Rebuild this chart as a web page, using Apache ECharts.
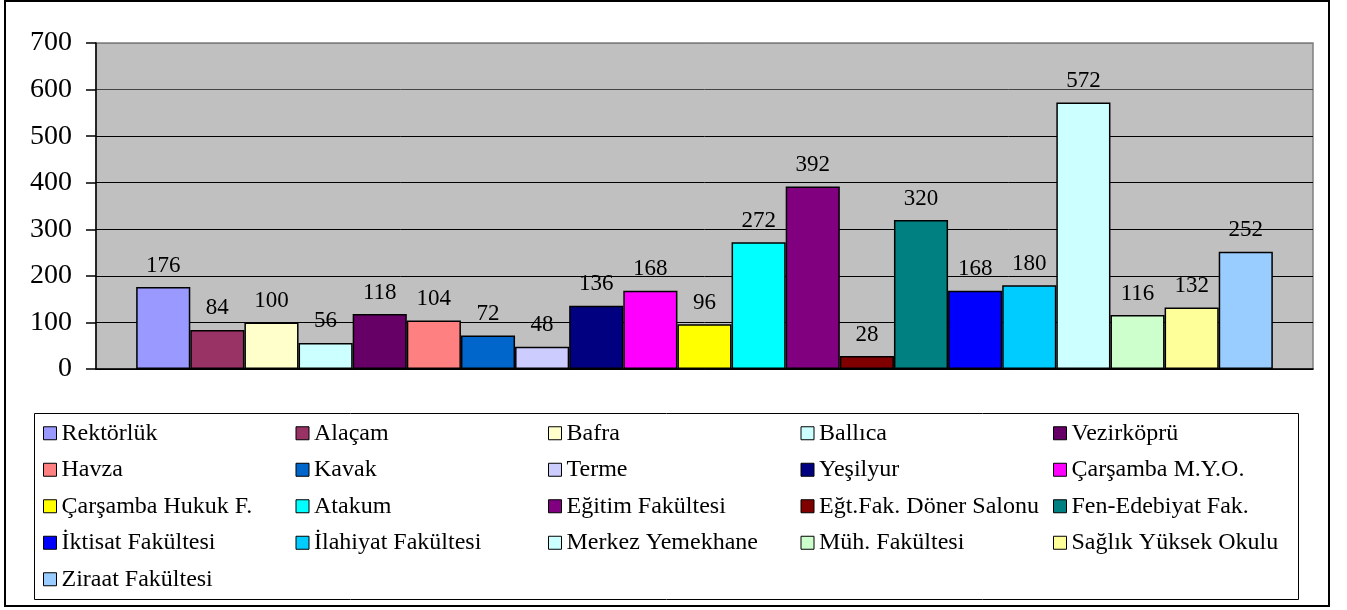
<!DOCTYPE html>
<html>
<head>
<meta charset="utf-8">
<script src="https://cdn.jsdelivr.net/npm/echarts@6/dist/echarts.min.js"></script>
<style>
html,body{margin:0;padding:0;background:#fff;}
#chart{width:1347px;height:610px;}
</style>
</head>
<body>
<div id="chart"></div>
<script>
var names = ['Rektörlük','Alaçam','Bafra','Ballıca','Vezirköprü','Havza','Kavak','Terme','Yeşilyur','Çarşamba M.Y.O.','Çarşamba Hukuk F.','Atakum','Eğitim Fakültesi','Eğt.Fak. Döner Salonu','Fen-Edebiyat Fak.','İktisat Fakültesi','İlahiyat Fakültesi','Merkez Yemekhane','Müh. Fakültesi','Sağlık Yüksek Okulu','Ziraat Fakültesi'];
var values = [176,84,100,56,118,104,72,48,136,168,96,272,392,28,320,168,180,572,116,132,252];
var colors = ['#9999FF','#993366','#FFFFCC','#CCFFFF','#660066','#FF8080','#0066CC','#CCCCFF','#000080','#FF00FF','#FFFF00','#00FFFF','#800080','#800000','#008080','#0000FF','#00CCFF','#CCFFFF','#CCFFCC','#FFFF99','#99CCFF'];
var yTicks = [0,100,200,300,400,500,600,700];

var FONT = "'Liberation Serif','Times New Roman',serif";
var chart = echarts.init(document.getElementById('chart'));
var series = names.map(function(n,i){
  return {
    name: n,
    type: 'bar',
    data: [values[i]],
    barGap: '0%',
    barCategoryGap: '6.6%',
    itemStyle: {color: colors[i], borderColor: '#000', borderWidth: 1.5},
    label: {show: true, position: 'top', distance: 10, color: '#000', fontSize: 23, fontFamily: FONT},
    emphasis: {disabled: true}
  };
});
chart.setOption({
  animation: false,
  color: colors,
  grid: {left: 96, right: 34, top: 43, bottom: 241, show: true, backgroundColor: '#C0C0C0', borderColor: '#808080', borderWidth: 1.5},
  xAxis: {type: 'category', data: [''], axisTick: {show: false}, axisLabel: {show: false}, axisLine: {lineStyle: {color: '#000', width: 1.5}}},
  yAxis: {type: 'value', min: yTicks[0], max: yTicks[yTicks.length-1], interval: 100,
    axisLine: {show: true, lineStyle: {color: '#000', width: 1.5}},
    axisTick: {show: true, length: 10, lineStyle: {color: '#000', width: 1.5}},
    axisLabel: {color: '#000', fontSize: 28, fontFamily: FONT, margin: 24},
    splitLine: {show: true, lineStyle: {color: ['#000','#000','#000','#000','#000','#000','#444','#808080'], width: 1}}
  },
  legend: {
    data: names,
    left: 43, top: 415, width: 1270, padding: 0, itemGap: 0,
    itemWidth: 13, itemHeight: 13, icon: 'rect',
    itemStyle: {borderColor: '#000', borderWidth: 1},
    textStyle: {color: '#000', fontSize: 24, fontFamily: FONT, width: 234, lineHeight: 36.5, overflow: 'none'},
    selectedMode: false
  },
  graphic: [
    {type: 'rect', shape: {x: 5, y: 1, width: 1324, height: 605}, style: {fill: null, stroke: '#000', lineWidth: 2}, silent: true},
    {type: 'rect', shape: {x: 34.5, y: 413.5, width: 1264, height: 186}, style: {fill: null, stroke: '#000', lineWidth: 1}, silent: true}
  ],
  series: series
});
</script>
</body>
</html>
